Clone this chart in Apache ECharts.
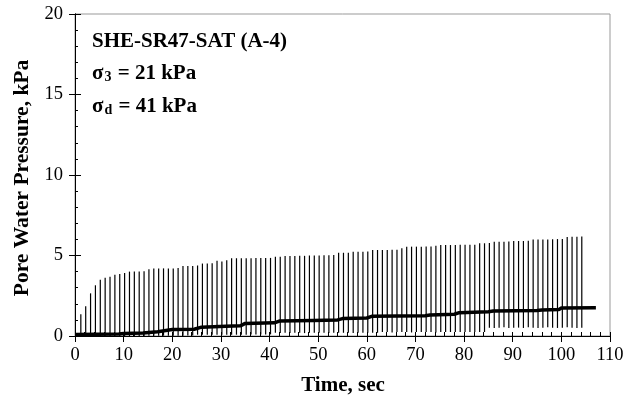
<!DOCTYPE html>
<html>
<head>
<meta charset="utf-8">
<script src="https://cdn.jsdelivr.net/npm/echarts@6/dist/echarts.min.js"></script>
<style>html,body{margin:0;padding:0;background:#fff}#c{width:636px;height:415px}</style>
</head>
<body>
<div id="c"></div>
<script>
// Time of each loading pulse (sec)
var pulseTimes = [
 1.2,2.2,3.2,4.2,5.2,6.2,7.2,8.2,9.2,10.2,
 11.2,12.2,13.2,14.2,15.2,16.2,17.2,18.2,19.2,20.2,
 21.2,22.2,23.2,24.2,25.2,26.2,27.2,28.2,29.2,30.2,
 31.2,32.2,33.2,34.2,35.2,36.2,37.2,38.2,39.2,40.2,
 41.2,42.2,43.2,44.2,45.2,46.2,47.2,48.2,49.2,50.2,
 51.2,52.2,53.2,54.2,55.2,56.2,57.2,58.2,59.2,60.2,
 61.2,62.2,63.2,64.2,65.2,66.2,67.2,68.2,69.2,70.2,
 71.2,72.2,73.2,74.2,75.2,76.2,77.2,78.2,79.2,80.2,
 81.2,82.2,83.2,84.2,85.2,86.2,87.2,88.2,89.2,90.2,
 91.2,92.2,93.2,94.2,95.2,96.2,97.2,98.2,99.2,100.2,
 101.2,102.2,103.2,104.2
];
// Peak pore water pressure of each pulse (kPa)
var pulsePeaks = [
 1.35,1.85,2.65,3.15,3.5,3.62,3.68,3.8,3.85,3.92,
 4.0,4.0,4.0,4.02,4.15,4.2,4.2,4.2,4.2,4.2,
 4.22,4.35,4.35,4.35,4.38,4.5,4.5,4.52,4.68,4.62,
 4.7,4.83,4.83,4.83,4.83,4.83,4.84,4.84,4.85,4.85,
 4.93,4.93,4.97,4.97,4.97,4.98,4.98,5.0,5.0,5.0,
 5.02,5.02,5.03,5.17,5.17,5.17,5.24,5.24,5.24,5.25,
 5.34,5.34,5.34,5.34,5.35,5.36,5.45,5.55,5.55,5.55,
 5.55,5.56,5.56,5.6,5.65,5.65,5.65,5.65,5.66,5.66,
 5.66,5.67,5.76,5.76,5.78,5.85,5.86,5.86,5.87,5.9,
 5.9,5.9,5.92,6.0,6.0,6.0,6.0,6.01,6.02,6.02,
 6.15,6.17,6.17,6.18
];
// Minimum (dip) pore water pressure of each pulse (kPa)
var pulseDips = [
 0,0,0,0,0,0,0,0,0,0,
 0,0,0,0,0.02,0.02,0.02,0.02,0.02,0.02,
 0.02,0.02,0.03,0.03,0.08,0.08,0.08,0.08,0.08,0.08,
 0.08,0.08,0.08,0.08,0.08,0.1,0.1,0.1,0.1,0.1,
 0.2,0.18,0.2,0.18,0.2,0.2,0.18,0.2,0.2,0.2,
 0.2,0.18,0.2,0.2,0.2,0.2,0.18,0.2,0.2,0.2,
 0.2,0.2,0.25,0.25,0.22,0.25,0.25,0.25,0.22,0.25,
 0.25,0.25,0.25,0.22,0.25,0.25,0.25,0.25,0.25,0.25,
 0.25,0.25,0.25,0.25,0.52,0.5,0.52,0.55,0.5,0.52,
 0.52,0.5,0.55,0.52,0.5,0.52,0.55,0.52,0.5,0.52,
 0.55,0.52,0.5,0.52
];
// Residual (permanent) pore pressure trace
var residualTimes  = [0,9,10,14,17,20,24.5,26,31,34,35,41,42,49,54,55,60,61,72,73,78,79,85,86,95,96,99.5,100,107.1];
var residualValues = [0.1,0.12,0.15,0.18,0.27,0.4,0.42,0.55,0.6,0.63,0.78,0.82,0.93,0.97,1.0,1.08,1.12,1.22,1.26,1.3,1.35,1.45,1.5,1.55,1.58,1.62,1.65,1.74,1.76];

var xTicks = {min:0, max:110, step:10};
var yTicks = {min:0, max:20, step:5};

var FONT = '"Liberation Serif","Times New Roman",serif';

var pulseData = pulseTimes.map(function(t,i){ return [t, pulseDips[i], pulsePeaks[i]]; });
var residualData = residualTimes.map(function(t,i){ return [t, residualValues[i]]; });

var chart = echarts.init(document.getElementById('c'), null, {renderer:'canvas'});
var axisLine = {show:true, lineStyle:{color:'#000', width:1}};
var richStyles = {
  g:{fontFamily:FONT, fontSize:21, fontWeight:'bold', fill:'#000', lineHeight:23, verticalAlign:'bottom'},
  s:{fontFamily:FONT, fontSize:14, fontWeight:'bold', fill:'#000', lineHeight:14, verticalAlign:'bottom', padding:[0,1,0,1]}
};
chart.setOption({
  animation:false,
  backgroundColor:'#fff',
  grid:{left:75, right:26, top:14, bottom:79, show:true, borderColor:'#999', borderWidth:1, backgroundColor:'transparent'},
  xAxis:[
    {type:'value', min:xTicks.min, max:xTicks.max, interval:xTicks.step, position:'bottom',
     axisLine:axisLine, axisTick:{show:true, inside:false, length:6, lineStyle:{color:'#000'}},
     axisLabel:{fontFamily:FONT, fontSize:18.5, color:'#000', margin:10},
     splitLine:{show:false}},
    {type:'value', min:xTicks.min, max:xTicks.max, interval:xTicks.step, position:'bottom',
     axisLine:axisLine, axisTick:{show:true, inside:true, length:4, lineStyle:{color:'#000'}},
     minorTick:{show:true, splitNumber:5, length:4, lineStyle:{color:'#000'}},
     axisLabel:{show:false}, splitLine:{show:false}}
  ],
  yAxis:[
    {type:'value', min:yTicks.min, max:yTicks.max, interval:yTicks.step, position:'left',
     axisLine:axisLine, axisTick:{show:true, inside:false, length:6, lineStyle:{color:'#000'}},
     axisLabel:{fontFamily:FONT, fontSize:18.5, color:'#000', margin:12},
     splitLine:{show:false}},
    {type:'value', min:yTicks.min, max:yTicks.max, interval:yTicks.step, position:'left', offset:0,
     axisLine:axisLine, axisTick:{show:true, inside:true, length:6, lineStyle:{color:'#000'}},
     minorTick:{show:true, splitNumber:5, length:3, lineStyle:{color:'#000'}},
     axisLabel:{show:false}, splitLine:{show:false}}
  ],
  graphic:[
    {type:'text', left:92, top:31, style:{text:'SHE-SR47-SAT (A-4)', font:'bold 21px '+FONT, fill:'#000'}},
    {type:'text', left:92, top:63, style:{text:'{g|σ}{s|3}{g| = 21 kPa}', rich:richStyles}},
    {type:'text', left:92, top:96, style:{text:'{g|σ}{s|d}{g| = 41 kPa}', rich:richStyles}},
    {type:'text', x:343, y:386, style:{text:'Time, sec', font:'bold 21px '+FONT, fill:'#000', align:'center', verticalAlign:'middle'}},
    {type:'text', x:22, y:178, rotation:Math.PI/2, style:{text:'Pore Water Pressure, kPa', font:'bold 21.5px '+FONT, fill:'#000', align:'center', verticalAlign:'middle'}}
  ],
  series:[
    {type:'custom', xAxisIndex:0, yAxisIndex:0, data:pulseData, encode:{x:0, y:[1,2]},
     renderItem:function(params, api){
       var a = api.coord([api.value(0), api.value(1)]);
       var b = api.coord([api.value(0), api.value(2)]);
       return {type:'line', shape:{x1:a[0], y1:a[1], x2:b[0], y2:b[1]}, style:{stroke:'#000', lineWidth:1.2}};
     }},
    {type:'line', xAxisIndex:0, yAxisIndex:0, data:residualData, showSymbol:false, symbol:'none',
     lineStyle:{color:'#000', width:3.5}, z:3}
  ]
});
</script>
</body>
</html>
